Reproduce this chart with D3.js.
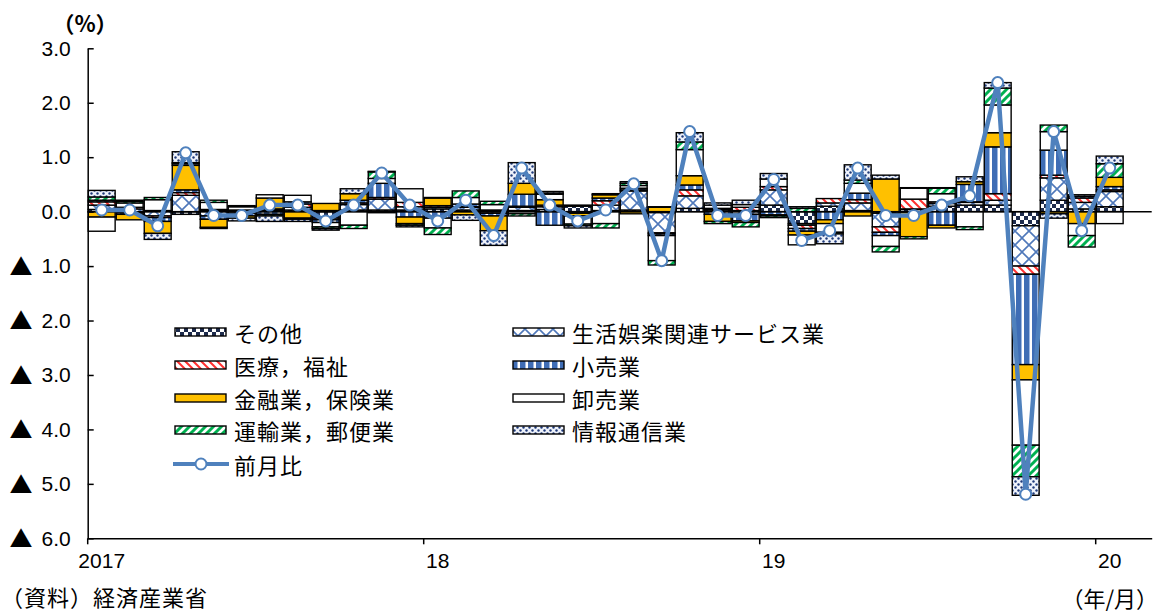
<!DOCTYPE html>
<html><head><meta charset="utf-8">
<script src="https://cdn.jsdelivr.net/npm/d3@7"></script>
<style>body{margin:0;background:#fff}svg{display:block}</style>
</head><body>
<svg id="c" width="1162" height="612"></svg>
<script>
// ---------- data ----------
const months = ["2017/1","2017/2","2017/3","2017/4","2017/5","2017/6","2017/7","2017/8","2017/9","2017/10","2017/11","2017/12",
"2018/1","2018/2","2018/3","2018/4","2018/5","2018/6","2018/7","2018/8","2018/9","2018/10","2018/11","2018/12",
"2019/1","2019/2","2019/3","2019/4","2019/5","2019/6","2019/7","2019/8","2019/9","2019/10","2019/11","2019/12",
"2020/1","2020/2"];
const xTickMonths = ["2017/1","2018/1","2019/1","2020/1"];
const xTickLabels = ["2017","18","19","20"];
const yTicks = [3,2,1,0,-1,-2,-3,-4,-5,-6];

const seriesNames = ["その他","生活娯楽関連サービス業","医療，福祉","小売業","金融業，保険業","卸売業","運輸業，郵便業","情報通信業"];
const lineName = "前月比";

const sonota   = [0.04,-0.02,0.02,-0.05,0.02,0.02,0.02,0.03,-0.12,0.03,0.03,0.03,0.05,0.03,0.02,0.02,0.04,0.10,0.02,0.03,-0.02,0.06,0.03,0.02,0.12,-0.22,0.10,0.02,-0.03,0.04,0.10,0.12,0.12,-0.26,0.21,0.05,0.09];
const seikatsu = [0.08,0.05,-0.08,0.30,-0.08,-0.03,0.02,0.05,0.02,0.10,0.20,0.06,0.03,0.05,-0.03,0.06,0.05,0.02,0.10,0.35,-0.37,0.23,0.02,-0.05,0.28,-0.03,0.06,0.14,-0.25,0.01,0.05,0.05,0.09,-0.74,0.41,0.12,0.28];
const iryou    = [0.06,0.03,-0.03,0.05,0.02,0.01,0.01,0.06,-0.03,0.03,0.03,0.08,0.03,0.01,0.01,0.02,0.03,-0.02,0.08,0.02,-0.02,0.11,0.01,0.06,0.06,-0.06,0.08,0.06,-0.10,0.18,0.03,0.01,0.12,-0.15,0.05,0.08,0.03];
const kouri    = [0.03,-0.03,-0.07,0.05,-0.06,-0.05,-0.05,0.04,-0.05,0.05,0.26,-0.10,-0.12,0.05,-0.05,0.22,-0.25,-0.01,0.05,0.03,-0.03,0.09,-0.05,-0.12,-0.06,-0.05,-0.15,0.12,-0.06,-0.01,-0.25,0.32,0.86,-1.66,0.46,0.03,0.06];
const kinyu    = [-0.10,-0.10,-0.22,0.45,-0.15,-0.04,0.20,-0.12,0.13,0.12,-0.02,-0.12,0.14,-0.06,-0.27,0.20,0.10,-0.05,0.06,-0.04,0.08,0.17,-0.13,-0.03,-0.02,-0.07,-0.07,-0.08,0.60,-0.45,-0.05,0.05,0.26,-0.28,-0.04,-0.22,0.17];
const oroshi   = [-0.26,0.08,0.20,0.03,0.13,0.06,0.06,0.12,-0.08,-0.25,0.09,0.25,-0.18,0.12,0.10,-0.04,0.10,-0.15,-0.22,0.05,-0.46,0.48,0.06,0.05,0.14,-0.18,-0.16,0.18,-0.20,0.20,0.15,-0.28,0.51,-1.20,0.34,-0.22,-0.22];
const unyu     = [0.06,0.03,0.04,0.02,0.04,0.02,-0.03,-0.02,-0.03,-0.06,0.12,-0.03,-0.12,0.12,0.06,-0.04,0.02,-0.03,-0.08,0.04,-0.08,0.14,-0.04,-0.08,-0.03,0.06,-0.03,0.06,-0.10,-0.04,0.10,-0.05,0.31,-0.58,0.12,-0.21,0.25];
const jouhou   = [0.12,0.02,-0.11,0.20,-0.02,-0.05,-0.10,-0.04,-0.03,0.09,0.01,-0.03,0.01,-0.10,-0.27,0.38,0.03,-0.04,0.02,0.03,0.01,0.17,0.04,0.08,0.10,0.03,-0.18,0.28,0.07,0.01,0.01,0.09,0.10,-0.34,-0.08,0.03,0.14];
const zengetsuhi = [0.03,0.03,-0.26,1.08,-0.07,-0.07,0.12,0.12,-0.17,0.12,0.71,0.12,-0.17,0.21,-0.44,0.80,0.12,-0.17,0.03,0.51,-0.90,1.47,-0.07,-0.07,0.59,-0.53,-0.35,0.80,-0.07,-0.07,0.12,0.29,2.37,-5.19,1.47,-0.35,0.80];

const seriesValues = [sonota, seikatsu, iryou, kouri, kinyu, oroshi, unyu, jouhou];

// ---------- drawing ----------
const svg = d3.select("#c");
const FONT_NUM = "'Liberation Sans', Arial, sans-serif";
const FONT_JP = "'Noto Sans CJK JP', sans-serif";

const x = d3.scaleBand().domain(months).range([87.7, 1151.7]).paddingInner(0.04).paddingOuter(0.02);
const y = d3.scaleLinear().domain([-6, 3]).range([538.3, 48.3]);

// patterns
const defs = svg.append("defs");
const patIds = ["pA","pB","pC","pD","pE","pF","pG","pH"];
function pat(id, w, h) {
  const p = defs.append("pattern").attr("id", id).attr("patternUnits", "userSpaceOnUse").attr("width", w).attr("height", h);
  p.append("rect").attr("width", w).attr("height", h).attr("fill", "#fff");
  return p;
}
let p;
p = pat("pA", 8, 8);
p.append("rect").attr("x",0).attr("y",0).attr("width",4).attr("height",4).attr("fill","#1d2b4c");
p.append("rect").attr("x",4).attr("y",4).attr("width",4).attr("height",4).attr("fill","#1d2b4c");
p = pat("pB", 14, 14);
p.append("path").attr("d","M0,0L14,14M14,0L0,14").attr("stroke","#4f78ba").attr("stroke-width",1.6).attr("fill","none");
p = pat("pC", 8, 8);
p.append("path").attr("d","M-2,-2L10,10M-2,6L2,10M6,-2L10,2").attr("stroke","#ff3030").attr("stroke-width",2).attr("fill","none");
p = pat("pD", 8, 8);
p.append("rect").attr("x",0).attr("width",5).attr("height",8).attr("fill","#3f6db5");
p.append("rect").attr("x",5).attr("width",1).attr("height",8).attr("fill","#9db7e0");
p = pat("pE", 8, 8);
p.select("rect").attr("fill","#ffc000");
p = pat("pF", 8, 8);
p = pat("pG", 8, 8);
p.append("path").attr("d","M0,8L8,0M-2,2L2,-2M6,10L10,6").attr("stroke","#00b050").attr("stroke-width",3).attr("fill","none");
p = pat("pH", 6, 6);
p.select("rect").attr("fill","#eef2fa");
p.append("circle").attr("cx",1.5).attr("cy",1.5).attr("r",1.2).attr("fill","#1f3a7a");
p.append("circle").attr("cx",4.5).attr("cy",4.5).attr("r",1.2).attr("fill","#1f3a7a");

// stacked data
const keys = seriesNames;
const rows = zengetsuhi.map((v, i) => {
  const r = { month: months[i] };
  keys.forEach((k, j) => r[k] = seriesValues[j][i]);
  return r;
});
const stacked = d3.stack().keys(keys).offset(d3.stackOffsetDiverging)(rows);

const gBars = svg.append("g");
stacked.forEach((s, si) => {
  gBars.append("g").selectAll("rect")
    .data(s.filter(d => d[1] !== d[0]))
    .join("rect")
    .attr("x", d => x(d.data.month))
    .attr("width", x.bandwidth())
    .attr("y", d => y(Math.max(d[0], d[1])))
    .attr("height", d => Math.abs(y(d[0]) - y(d[1])))
    .attr("fill", `url(#${patIds[si]})`)
    .attr("stroke", "#000")
    .attr("stroke-width", 1.4);
});

// zero line
svg.append("line").attr("x1", 87.7).attr("x2", 1151.7).attr("y1", y(0)).attr("y2", y(0))
  .attr("stroke", "#000").attr("stroke-width", 1.5);

// y axis
const gy = svg.append("g").attr("transform", "translate(87.7,0)")
  .call(d3.axisLeft(y).tickValues(yTicks).tickSizeInner(-6).tickSizeOuter(0).tickPadding(17)
    .tickFormat(d => Math.abs(d).toFixed(1)));
gy.select(".domain").attr("stroke", "#000").attr("stroke-width", 1.5);
gy.selectAll(".tick line").attr("stroke", "#000").attr("stroke-width", 1.5);
gy.selectAll(".tick text").attr("font-family", FONT_NUM).attr("font-size", 21).attr("fill", "#000");
gy.selectAll(".tick").filter(d => d < 0).append("text")
  .attr("x", 21 - 87.7).attr("dy", "0.36em").attr("text-anchor", "middle")
  .attr("font-family", FONT_JP).attr("font-size", 23).attr("fill", "#000").text("▲");

// x axis
const gx = svg.append("g").attr("transform", `translate(0,${y(-6)})`)
  .call(d3.axisBottom(x).tickValues(xTickMonths).tickSizeInner(6).tickSizeOuter(0).tickPadding(9)
    .tickFormat(d => xTickLabels[xTickMonths.indexOf(d)]));
gx.select(".domain").attr("stroke", "#000").attr("stroke-width", 1.5);
gx.selectAll(".tick line").attr("x1", -x.step() / 2).attr("x2", -x.step() / 2).attr("stroke", "#000").attr("stroke-width", 1.5);
gx.selectAll(".tick text").attr("font-family", FONT_NUM).attr("font-size", 21).attr("fill", "#000");

// line
const cx = (d, i) => x(months[i]) + x.bandwidth() / 2;
svg.append("path").datum(zengetsuhi)
  .attr("d", d3.line().x(cx).y(d => y(d)))
  .attr("fill", "none").attr("stroke", "#4f81bd").attr("stroke-width", 4.5).attr("stroke-linejoin", "round");
svg.append("g").selectAll("circle").data(zengetsuhi).join("circle")
  .attr("cx", cx).attr("cy", d => y(d)).attr("r", 5.5)
  .attr("fill", "#fff").attr("stroke", "#4f81bd").attr("stroke-width", 2);

// legend
const legendCells = [
  { i: 0, x: 175, y: 332 }, { i: 1, x: 513, y: 332 },
  { i: 2, x: 175, y: 365 }, { i: 3, x: 513, y: 365 },
  { i: 4, x: 175, y: 398 }, { i: 5, x: 513, y: 398 },
  { i: 6, x: 175, y: 430 }, { i: 7, x: 513, y: 430 }
];
const gl = svg.append("g");
legendCells.forEach(c => {
  gl.append("rect").attr("x", c.x).attr("y", c.y - 4).attr("width", 51).attr("height", 8)
    .attr("fill", `url(#${patIds[c.i]})`).attr("stroke", "#000").attr("stroke-width", 1.4);
  gl.append("text").attr("x", c.x + 59).attr("y", c.y).attr("dominant-baseline", "central")
    .attr("font-family", FONT_JP).attr("font-size", 22).attr("letter-spacing", 1).attr("fill", "#000")
    .text(seriesNames[c.i]);
});
gl.append("line").attr("x1", 173).attr("x2", 229).attr("y1", 464).attr("y2", 464)
  .attr("stroke", "#4f81bd").attr("stroke-width", 4);
gl.append("circle").attr("cx", 201).attr("cy", 464).attr("r", 5.5)
  .attr("fill", "#fff").attr("stroke", "#4f81bd").attr("stroke-width", 2);
gl.append("text").attr("x", 234).attr("y", 464).attr("dominant-baseline", "central")
  .attr("font-family", FONT_JP).attr("font-size", 22).attr("letter-spacing", 1).attr("fill", "#000").text(lineName);

// annotations
svg.append("text").attr("x", 85).attr("y", 22).attr("text-anchor", "middle").attr("dominant-baseline", "central")
  .attr("font-family", FONT_JP).attr("font-size", 22).attr("font-weight", "bold").attr("fill", "#000").text("（%）");
svg.append("text").attr("x", 1).attr("y", 596).attr("dominant-baseline", "central")
  .attr("font-family", FONT_JP).attr("font-size", 22).attr("letter-spacing", 1).attr("fill", "#000").text("（資料）経済産業省");
svg.append("text").attr("x", 1158).attr("y", 597).attr("text-anchor", "end").attr("dominant-baseline", "central")
  .attr("font-family", FONT_JP).attr("font-size", 22).attr("fill", "#000").text("（年/月）");
</script>
</body></html>
